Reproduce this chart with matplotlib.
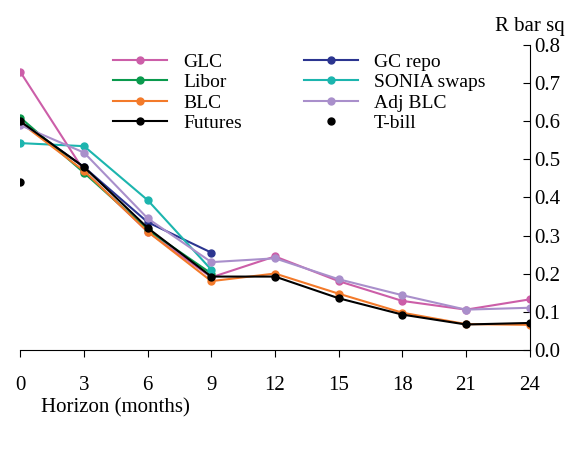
import matplotlib.pyplot as plt

plt.rcParams['font.family'] = ['Liberation Serif', 'DejaVu Serif']

h = [0, 3, 6, 9, 12, 15, 18, 21, 24]
h9 = [0, 3, 6, 9]
glc = [0.73, 0.47, 0.31, 0.19, 0.245, 0.18, 0.128, 0.105, 0.132]
gc_repo = [0.60, 0.48, 0.335, 0.255]
libor = [0.61, 0.465, 0.315, 0.20]
sonia = [0.543, 0.535, 0.393, 0.21]
blc = [0.597, 0.47, 0.31, 0.18, 0.20, 0.147, 0.097, 0.067, 0.065]
adj_blc = [0.59, 0.518, 0.345, 0.23, 0.24, 0.185, 0.143, 0.105, 0.11]
futures = [0.60, 0.48, 0.32, 0.192, 0.192, 0.135, 0.092, 0.066, 0.07]
tbill = [0.44]

fig, ax = plt.subplots(figsize=(5.82, 4.54), dpi=100)
fig.subplots_adjust(left=0.035, right=0.91, top=0.90, bottom=0.23)

kw = dict(marker='o', markersize=5, linewidth=1.5)
l_glc, = ax.plot(h, glc, color='#cc5ea8', label='GLC', **kw)
l_gc, = ax.plot(h9, gc_repo, color='#2b3590', label='GC repo', **kw)
l_lib, = ax.plot(h9, libor, color='#0a9a4d', label='Libor', **kw)
l_son, = ax.plot(h9, sonia, color='#1cb5ae', label='SONIA swaps', **kw)
l_blc, = ax.plot(h, blc, color='#f37a2a', label='BLC', **kw)
l_adj, = ax.plot(h, adj_blc, color='#a98fcb', label='Adj BLC', **kw)
l_fut, = ax.plot(h, futures, color='black', label='Futures', **kw)
l_tb, = ax.plot([0], tbill, 'o', color='black', markersize=5, label='T-bill')

ax.set_xlim(0, 24)
ax.set_ylim(0, 0.8)
ax.set_xticks(h)
ax.set_yticks([i / 10 for i in range(9)])
ax.set_yticklabels([f'{i / 10:.1f}' for i in range(9)])
ax.yaxis.tick_right()
ax.spines['left'].set_visible(False)
ax.spines['top'].set_visible(False)
ax.tick_params(axis='x', direction='out', length=5, pad=14, labelsize=15)
ax.tick_params(axis='y', direction='in', length=5, labelsize=15)
ax.set_xlabel('Horizon (months)', fontsize=15, loc='left', labelpad=0)
ax.xaxis.set_label_coords(0.04, -0.16)
ax.text(1.0, 1.03, 'R bar sq', transform=ax.transAxes, fontsize=15, ha='center', va='bottom')

# column-major order so rows read GLC/GC repo, Libor/SONIA, ...
handles = [l_glc, l_lib, l_blc, l_fut, l_gc, l_son, l_adj, l_tb]
ax.legend(handles=handles, ncol=2, loc='upper right', bbox_to_anchor=(0.94, 1.02),
          frameon=False, fontsize=14, handlelength=2.8, labelspacing=0.15,
          columnspacing=3.2, borderpad=0.2)

fig.savefig('out.png')
